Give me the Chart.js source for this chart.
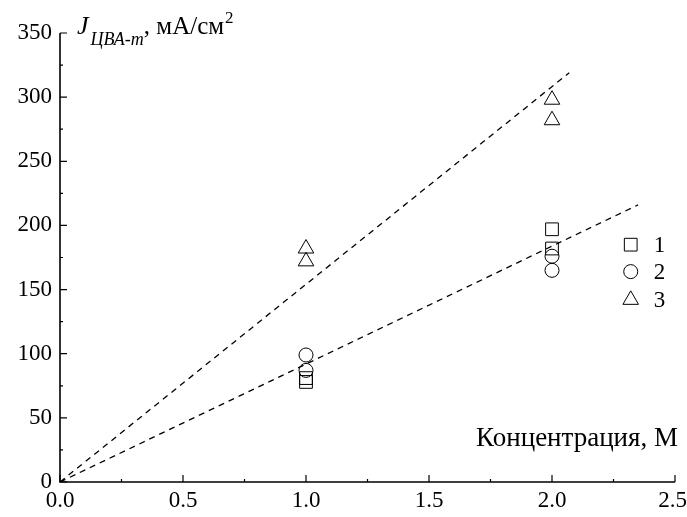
<!DOCTYPE html>
<html>
<head>
<meta charset="utf-8">
<script src="https://cdn.jsdelivr.net/npm/chart.js@4.4.0/dist/chart.umd.min.js"></script>
<style>
  html, body { margin: 0; padding: 0; background: #fff; }
  #wrap { width: 687px; height: 517px; }
</style>
</head>
<body>
<div id="wrap"><canvas id="chart" width="687" height="517"></canvas></div>
<script>
const FONT = "'Liberation Serif', 'Times New Roman', serif";

// measured points
const xs1 = [1.0, 1.0, 2.0, 2.0];
const ys1 = [78, 81, 197, 182];
const xs2 = [1.0, 1.0, 2.0, 2.0];
const ys2 = [99, 87, 176, 165];
const xs3 = [1.0, 1.0, 2.0, 2.0];
const ys3 = [182, 172, 298, 282];

// dashed fit lines (endpoints)
const fitA_x = [0, 2.07];
const fitA_y = [0, 319];
const fitB_x = [0, 2.35];
const fitB_y = [0, 216];

const legendLabels = ["1", "2", "3"];
const legendStyles = ["rect", "circle", "triangle"];
const legendY = [185, 164, 142];
const legendX = 2.32;

const xTicks = [0, 0.5, 1.0, 1.5, 2.0, 2.5];
const yTicks = [0, 50, 100, 150, 200, 250, 300, 350];

function pts(xs, ys) {
  return xs.map((x, i) => ({ x: x, y: ys[i] }));
}

function markerSet(xs, ys, style, r) {
  return {
    type: "scatter",
    data: pts(xs, ys),
    pointStyle: style,
    pointRadius: r,
    pointBorderColor: "#000",
    pointBackgroundColor: "rgba(0,0,0,0)",
    pointBorderWidth: 1,
    showLine: false,
  };
}

function fitSet(xs, ys) {
  return {
    type: "line",
    data: pts(xs, ys),
    borderColor: "#000",
    borderWidth: 1.3,
    borderDash: [6, 5],
    pointRadius: 0,
    fill: false,
    tension: 0,
  };
}

// axes with inward ticks, x labels, titles and legend
const decor = {
  id: "decor",
  afterDraw(chart) {
    const ctx = chart.ctx;
    const xS = chart.scales.x, yS = chart.scales.y;
    const x0 = xS.getPixelForValue(0), y0 = yS.getPixelForValue(0);
    const xEnd = xS.getPixelForValue(2.5), yTop = yS.getPixelForValue(350);
    ctx.save();
    ctx.strokeStyle = "#000";
    ctx.lineWidth = 1.6;
    ctx.beginPath();
    ctx.moveTo(x0, yTop);
    ctx.lineTo(x0, y0);
    ctx.lineTo(xEnd, y0);
    ctx.stroke();
    ctx.lineWidth = 1.2;
    ctx.beginPath();
    for (let v = 0; v <= 350.01; v += 25) {
      const p = yS.getPixelForValue(v);
      const len = v % 50 === 0 ? 7 : 3;
      ctx.moveTo(x0, p);
      ctx.lineTo(x0 + len, p);
    }
    for (let v = 0; v <= 2.501; v += 0.25) {
      const p = xS.getPixelForValue(v);
      const len = Math.abs(v * 2 - Math.round(v * 2)) < 0.01 ? 7 : 3;
      ctx.moveTo(p, y0);
      ctx.lineTo(p, y0 - len);
    }
    ctx.stroke();

    // x tick labels (last one kept inside the canvas)
    ctx.fillStyle = "#000";
    ctx.font = "23px " + FONT;
    ctx.textBaseline = "top";
    ctx.textAlign = "center";
    xTicks.forEach((v) => {
      const s = v.toFixed(1);
      const w = ctx.measureText(s).width;
      let px = xS.getPixelForValue(v);
      px = Math.min(px, chart.width - w / 2);
      ctx.fillText(s, px, y0 + 7);
    });

    // y title
    ctx.textBaseline = "alphabetic";
    ctx.textAlign = "left";
    let tx = 77;
    ctx.font = "italic 26px " + FONT;
    ctx.fillText("J", tx, 34);
    tx += ctx.measureText("J").width + 2;
    ctx.font = "italic 18px " + FONT;
    ctx.fillText("ЦВА-m", tx, 45);
    tx += ctx.measureText("ЦВА-m").width;
    ctx.font = "25px " + FONT;
    ctx.fillText(", мА/см", tx, 34);
    tx += ctx.measureText(", мА/см").width + 1;
    ctx.font = "17px " + FONT;
    ctx.fillText("2", tx, 23);

    // x title
    ctx.font = "27px " + FONT;
    ctx.textAlign = "right";
    ctx.fillText("Концентрация, М", 678, 446);

    // legend
    ctx.textAlign = "left";
    ctx.textBaseline = "middle";
    ctx.lineWidth = 1;
    const radii = { rect: 9, circle: 7, triangle: 9 };
    legendLabels.forEach((lab, i) => {
      const px = xS.getPixelForValue(legendX);
      const py = yS.getPixelForValue(legendY[i]);
      ctx.strokeStyle = "#000";
      ctx.fillStyle = "rgba(0,0,0,0)";
      Chart.helpers.drawPoint(ctx, { pointStyle: legendStyles[i], radius: radii[legendStyles[i]], borderWidth: 1 }, px, py);
      ctx.fillStyle = "#000";
      ctx.font = "23px " + FONT;
      ctx.fillText(lab, px + 23, py + 1);
    });
    ctx.restore();
  },
};

new Chart(document.getElementById("chart"), {
  type: "scatter",
  data: {
    datasets: [
      fitSet(fitA_x, fitA_y),
      fitSet(fitB_x, fitB_y),
      markerSet(xs1, ys1, "rect", 9),
      markerSet(xs2, ys2, "circle", 7),
      markerSet(xs3, ys3, "triangle", 9),
    ],
  },
  options: {
    responsive: false,
    animation: false,
    layout: { padding: { top: 33, right: 12, left: 0, bottom: 0 } },
    plugins: { legend: { display: false }, tooltip: { enabled: false } },
    scales: {
      x: {
        type: "linear",
        min: 0,
        max: 2.5,
        afterBuildTicks: (s) => { s.ticks = xTicks.map((v) => ({ value: v })); },
        afterFit: (s) => { s.height = 35; s.paddingLeft = 0; s.paddingRight = 0; },
        grid: { display: false, drawTicks: false },
        border: { display: false },
        ticks: { display: false },
      },
      y: {
        type: "linear",
        min: 0,
        max: 350,
        afterBuildTicks: (s) => { s.ticks = yTicks.map((v) => ({ value: v })); },
        afterFit: (s) => { s.width = 60; s.paddingTop = 0; s.paddingBottom = 0; },
        grid: { display: false, drawTicks: false },
        border: { display: false },
        ticks: {
          color: "#000",
          font: { family: FONT, size: 23 },
          padding: 8,
          callback: (v) => String(v),
        },
      },
    },
  },
  plugins: [decor],
});
</script>
</body>
</html>
